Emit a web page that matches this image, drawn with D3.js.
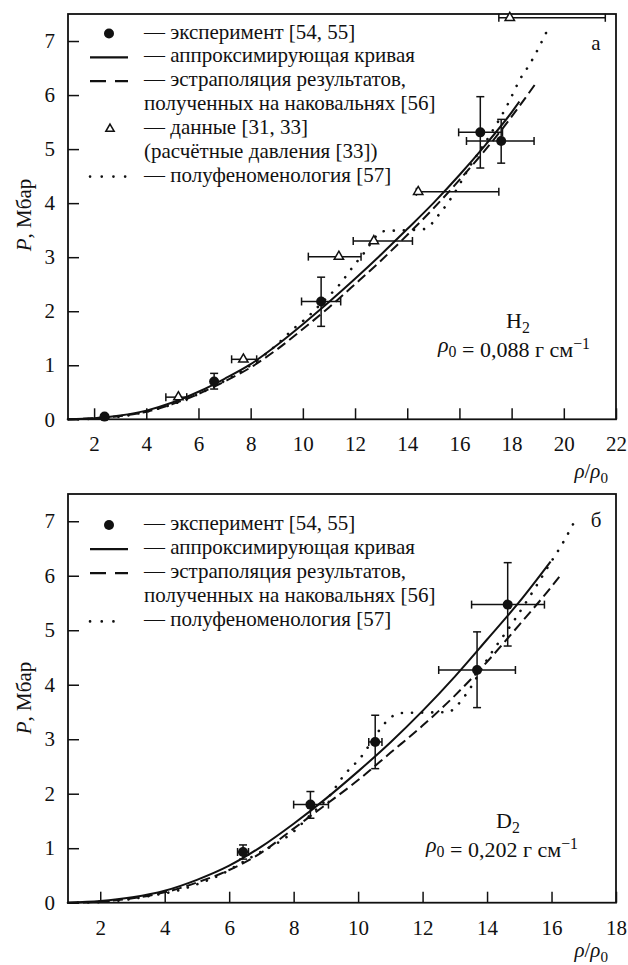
<!DOCTYPE html>
<html>
<head>
<meta charset="utf-8">
<script src="https://cdn.jsdelivr.net/npm/d3@7"></script>
<style>
  body { margin: 0; background: #fff; }
</style>
</head>
<body>
<div id="chart"></div>
<script>
// ---- panel а: H2 ----
const h2ExpRho = [2.4, 6.6, 10.7, 16.8, 17.6];
const h2ExpP = [0.05, 0.7, 2.18, 5.31, 5.15];
const h2ExpRhoLo = [2.4, 6.6, 9.95, 15.97, 16.27];
const h2ExpRhoHi = [2.4, 6.6, 11.45, 17.65, 18.86];
const h2ExpPLo = [0.05, 0.56, 1.72, 4.65, 4.74];
const h2ExpPHi = [0.05, 0.85, 2.63, 5.97, 5.55];

const h2CalcRho = [5.23, 7.72, 11.38, 12.72, 14.42, 17.93];
const h2CalcP = [0.41, 1.11, 3.01, 3.3, 4.21, 7.43];
const h2CalcRhoLo = [4.75, 7.27, 10.21, 11.93, 14.35, 17.51];
const h2CalcRhoHi = [5.55, 8.23, 12.23, 14.2, 17.51, 21.59];

const h2FitRho = [1, 2, 3, 4, 5, 6, 7, 8, 9, 10, 11, 12, 13, 14, 15, 16, 17, 18, 18.3];
const h2FitP = [0, 0.02, 0.07, 0.16, 0.31, 0.51, 0.75, 1.02, 1.37, 1.76, 2.17, 2.6, 3.05, 3.52, 4.0, 4.52, 5.08, 5.68, 5.88];

const h2AnvilRho = [1, 2, 3, 4, 5, 6, 7, 8, 9, 10, 11, 12, 13, 14, 15, 16, 17, 18, 18.9];
const h2AnvilP = [0, 0.02, 0.06, 0.14, 0.28, 0.47, 0.7, 0.96, 1.29, 1.67, 2.07, 2.5, 2.94, 3.41, 3.9, 4.43, 4.99, 5.6, 6.2];

const h2SemiRho = [1, 2, 3, 4.33, 5.48, 6.57, 7.33, 8, 9, 9.63, 10.2, 10.78, 11.4, 11.93, 12.44, 12.75, 13.1, 14.0, 14.65, 15.25, 15.76, 16.4, 17.17, 17.81, 18.38, 18.64, 19.47];
const h2SemiP = [0, 0.01, 0.05, 0.18, 0.36, 0.6, 0.8, 1.0, 1.38, 1.67, 1.9, 2.18, 2.49, 2.83, 3.14, 3.36, 3.48, 3.5, 3.52, 3.81, 4.15, 4.68, 5.26, 5.79, 6.34, 6.53, 7.3];

// ---- panel б: D2 ----
const d2ExpRho = [6.43, 8.52, 10.53, 13.69, 14.64];
const d2ExpP = [0.93, 1.8, 2.95, 4.27, 5.47];
const d2ExpRhoLo = [6.26, 8.0, 10.33, 12.5, 13.52];
const d2ExpRhoHi = [6.6, 9.08, 10.74, 14.88, 15.78];
const d2ExpPLo = [0.8, 1.55, 2.46, 3.58, 4.71];
const d2ExpPHi = [1.06, 2.04, 3.44, 4.97, 6.24];

const d2FitRho = [1, 2, 3, 4, 5, 6, 7, 8, 9, 10, 11, 12, 13, 14, 15, 15.97];
const d2FitP = [0, 0.03, 0.1, 0.22, 0.42, 0.68, 1.03, 1.45, 1.91, 2.41, 2.94, 3.52, 4.15, 4.83, 5.52, 6.26];

const d2AnvilRho = [1, 2, 3, 4, 5, 6, 7, 8, 9, 10, 11, 12, 13, 14, 15, 16, 16.33];
const d2AnvilP = [0, 0.02, 0.08, 0.19, 0.37, 0.6, 0.92, 1.36, 1.8, 2.25, 2.75, 3.25, 3.8, 4.42, 5.1, 5.8, 6.05];

const d2SemiRho = [1, 2, 3.7, 4.38, 5.1, 5.72, 6.34, 6.91, 7.48, 7.95, 8.5, 9.14, 9.5, 9.76, 10.02, 10.3, 10.59, 10.84, 11.31, 12.09, 12.8, 13.07, 13.48, 14.0, 14.83, 15.4, 15.97, 16.33, 16.69];
const d2SemiP = [0, 0.01, 0.14, 0.22, 0.36, 0.51, 0.72, 0.91, 1.09, 1.28, 1.6, 1.98, 2.29, 2.47, 2.62, 2.85, 3.11, 3.3, 3.48, 3.49, 3.5, 3.62, 3.94, 4.46, 5.17, 5.69, 6.24, 6.58, 6.97];

// ---- ticks and legend text ----
const pTicks = [0, 1, 2, 3, 4, 5, 6, 7];
const h2RhoTicks = [2, 4, 6, 8, 10, 12, 14, 16, 18, 20, 22];
const d2RhoTicks = [2, 4, 6, 8, 10, 12, 14, 16, 18];

const h2Legend = ["— эксперимент [54, 55]", "— аппроксимирующая кривая", "— эстраполяция результатов,",
  "полученных на наковальнях [56]", "— данные  [31, 33]", "(расчётные давления [33])", "— полуфеноменология [57]"];
const h2LegendSym = ["circle", "solid", "dashed", null, "triangle", null, "dotted"];
const d2Legend = ["— эксперимент [54, 55]", "— аппроксимирующая кривая", "— эстраполяция результатов,",
  "полученных на наковальнях [56]", "— полуфеноменология [57]"];
const d2LegendSym = ["circle", "solid", "dashed", null, "dotted3"];

const W = 628, H = 965;
const left = 68, right = 616;
const ink = "#111";
const serif = "Liberation Serif";

const svg = d3.select("#chart").append("svg")
    .attr("width", W)
    .attr("height", H)
    .attr("font-family", serif);

const lineStyles = {
  solid: { width: 2, dash: null, cap: "butt" },
  dashed: { width: 2, dash: "10,5", cap: "butt" },
  dotted: { width: 2.6, dash: "0.1,10", cap: "round" }
};

function styleAxis(sel) {
  sel.attr("font-family", serif).attr("font-size", null);
  sel.select(".domain").remove();
  sel.selectAll(".tick line").attr("stroke", ink).attr("stroke-width", 1.5);
  sel.selectAll(".tick text").attr("font-size", 21).attr("fill", ink).attr("font-family", serif);
}

function addText(g, x, y, size) {
  return g.append("text").attr("x", x).attr("y", y)
      .attr("font-family", serif).attr("font-size", size).attr("fill", ink);
}

function addSub(text, base, sub, italic) {
  text.append("tspan").attr("font-style", italic ? "italic" : null).text(base);
  text.append("tspan").attr("dy", 5).attr("font-size", "0.72em").text(sub);
  text.append("tspan").attr("dy", -5).text("");
}

function drawPanel(p) {
  const g = svg.append("g");
  const x = d3.scaleLinear().domain([1, p.xMax]).range([left, right]);
  const y = d3.scaleLinear().domain([0, 7.5]).range([p.bottom, p.top]);

  g.append("g")
      .attr("transform", `translate(0,${p.bottom})`)
      .call(d3.axisBottom(x).tickValues(p.xTicks).tickSize(-11).tickPadding(17).tickSizeOuter(0))
      .call(styleAxis);

  g.append("g")
      .attr("transform", `translate(${left},0)`)
      .call(d3.axisLeft(y).tickValues(pTicks).tickSize(-11).tickPadding(13).tickSizeOuter(0))
      .call(styleAxis);

  g.append("rect")
      .attr("x", left).attr("y", p.top)
      .attr("width", right - left).attr("height", p.bottom - p.top)
      .attr("fill", "none").attr("stroke", ink).attr("stroke-width", 1.8);

  const line = d3.line()
      .x(d => x(d[0]))
      .y(d => y(d[1]))
      .curve(d3.curveMonotoneX);

  p.curves.forEach(c => {
    const st = lineStyles[c.style];
    g.append("path")
        .datum(d3.zip(c.rho, c.p))
        .attr("d", line)
        .attr("fill", "none")
        .attr("stroke", ink)
        .attr("stroke-width", st.width)
        .attr("stroke-dasharray", st.dash)
        .attr("stroke-linecap", st.cap);
  });

  // error bars
  const cap = 4;
  p.points.forEach(s => {
    const pts = s.rho.map((r, i) => ({
      r, v: s.p[i],
      rlo: s.rlo ? s.rlo[i] : r, rhi: s.rhi ? s.rhi[i] : r,
      plo: s.plo ? s.plo[i] : s.p[i], phi: s.phi ? s.phi[i] : s.p[i]
    }));
    const eb = g.append("g").attr("stroke", ink).attr("stroke-width", 1.5);
    pts.filter(d => d.rhi > d.rlo).forEach(d => {
      eb.append("line").attr("x1", x(d.rlo)).attr("x2", x(d.rhi)).attr("y1", y(d.v)).attr("y2", y(d.v));
      [d.rlo, d.rhi].forEach(e => eb.append("line")
          .attr("x1", x(e)).attr("x2", x(e)).attr("y1", y(d.v) - cap).attr("y2", y(d.v) + cap));
    });
    pts.filter(d => d.phi > d.plo).forEach(d => {
      eb.append("line").attr("x1", x(d.r)).attr("x2", x(d.r)).attr("y1", y(d.plo)).attr("y2", y(d.phi));
      [d.plo, d.phi].forEach(e => eb.append("line")
          .attr("x1", x(d.r) - cap).attr("x2", x(d.r) + cap).attr("y1", y(e)).attr("y2", y(e)));
    });
    if (s.marker === "circle") {
      g.selectAll(null).data(pts).join("circle")
          .attr("cx", d => x(d.r)).attr("cy", d => y(d.v)).attr("r", 5).attr("fill", ink);
    } else {
      g.selectAll(null).data(pts).join("path")
          .attr("transform", d => `translate(${x(d.r)},${y(d.v)})`)
          .attr("d", d3.symbol(d3.symbolTriangle, 38))
          .attr("fill", "#fff").attr("stroke", ink).attr("stroke-width", 1.5);
    }
  });

  // legend
  p.legend.forEach((t, i) => {
    const by = p.legendY + i * p.legendStep;
    addText(g, 144, by, 21).text(t);
    const sym = p.legendSym[i];
    const cy = by - 5;
    if (sym === "circle") {
      g.append("circle").attr("cx", 109).attr("cy", cy).attr("r", 5).attr("fill", ink);
    } else if (sym === "triangle") {
      g.append("path").attr("transform", `translate(110,${cy})`)
          .attr("d", d3.symbol(d3.symbolTriangle, 30))
          .attr("fill", "#fff").attr("stroke", ink).attr("stroke-width", 1.5);
    } else if (sym) {
      const dash = sym === "solid" ? null : sym === "dashed" ? "16,9" : "0.1,11.6";
      g.append("line")
          .attr("x1", 90).attr("x2", sym === "dotted3" ? 116 : 128)
          .attr("y1", cy).attr("y2", cy)
          .attr("stroke", ink)
          .attr("stroke-width", sym.startsWith("dotted") ? 2.6 : 2.2)
          .attr("stroke-dasharray", dash)
          .attr("stroke-linecap", sym.startsWith("dotted") ? "round" : "butt");
    }
  });

  // panel letter
  addText(g, 596, p.top + p.letterDy, 21).attr("text-anchor", "middle").text(p.letter);

  // substance and density
  const sub = addText(g, p.nameX, p.nameY, 22).attr("text-anchor", "middle");
  addSub(sub, p.name[0], p.name[1], false);

  const dens = addText(g, p.densX, p.nameY + 24, 22).attr("text-anchor", "end");
  addSub(dens, "ρ", "0", true);
  dens.append("tspan").text(" = " + p.density + " г см");
  dens.append("tspan").attr("dy", -8).attr("font-size", "0.72em").text("−1");

  // axis titles
  const yt = addText(g, 0, 0, 21)
      .attr("transform", `translate(31,${p.yTitleY}) rotate(-90)`)
      .attr("text-anchor", "middle");
  yt.append("tspan").attr("font-style", "italic").text("P");
  yt.append("tspan").text(", Мбар");

  const xt = addText(g, 608, p.xTitleY, 21).attr("text-anchor", "end");
  xt.append("tspan").attr("font-style", "italic").text("ρ");
  xt.append("tspan").text("/");
  addSub(xt, "ρ", "0", true);
}

drawPanel({
  top: 14, bottom: 419.3, xMax: 22, xTicks: h2RhoTicks,
  curves: [
    { rho: h2FitRho, p: h2FitP, style: "solid" },
    { rho: h2AnvilRho, p: h2AnvilP, style: "dashed" },
    { rho: h2SemiRho, p: h2SemiP, style: "dotted" }
  ],
  points: [
    { rho: h2CalcRho, p: h2CalcP, rlo: h2CalcRhoLo, rhi: h2CalcRhoHi, marker: "triangle" },
    { rho: h2ExpRho, p: h2ExpP, rlo: h2ExpRhoLo, rhi: h2ExpRhoHi, plo: h2ExpPLo, phi: h2ExpPHi, marker: "circle" }
  ],
  legend: h2Legend, legendSym: h2LegendSym, legendY: 38.5, legendStep: 23.85,
  letter: "а", letterDy: 36,
  name: ["H", "2"], nameX: 518, nameY: 328, densX: 590, density: "0,088",
  yTitleY: 215, xTitleY: 478
});

drawPanel({
  top: 494, bottom: 902.7, xMax: 18, xTicks: d2RhoTicks,
  curves: [
    { rho: d2FitRho, p: d2FitP, style: "solid" },
    { rho: d2AnvilRho, p: d2AnvilP, style: "dashed" },
    { rho: d2SemiRho, p: d2SemiP, style: "dotted" }
  ],
  points: [
    { rho: d2ExpRho, p: d2ExpP, rlo: d2ExpRhoLo, rhi: d2ExpRhoHi, plo: d2ExpPLo, phi: d2ExpPHi, marker: "circle" }
  ],
  legend: d2Legend, legendSym: d2LegendSym, legendY: 530, legendStep: 24.1,
  letter: "б", letterDy: 33,
  name: ["D", "2"], nameX: 508, nameY: 828, densX: 578, density: "0,202",
  yTitleY: 698, xTitleY: 957
});
</script>
</body>
</html>
